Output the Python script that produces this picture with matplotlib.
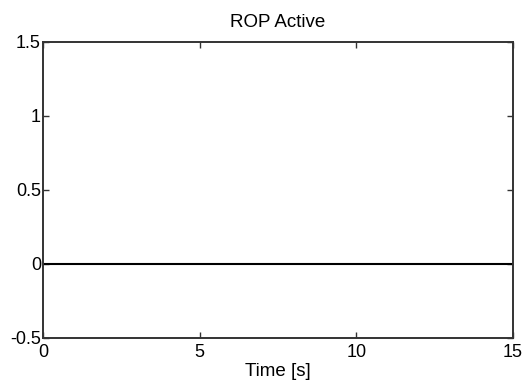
import matplotlib
matplotlib.use("Agg")
import matplotlib.pyplot as plt

# ROP activity flag over the run
time_s = [0, 15]
rop_active = [0, 0]

x_ticks = [0, 5, 10, 15]
y_ticks = [-0.5, 0, 0.5, 1, 1.5]
y_tick_labels = ["-0.5", "0", "0.5", "1", "1.5"]

plt.rcParams["font.family"] = ["Liberation Sans", "DejaVu Sans"]

fig = plt.figure(figsize=(5.24, 3.81), dpi=100)
ax = fig.add_axes([0.082, 0.113, 0.897, 0.777])

ax.plot(time_s, rop_active, color="black", linewidth=1.5)

ax.set_xlim(0, 15)
ax.set_ylim(-0.5, 1.5)
ax.set_xticks(x_ticks)
ax.set_yticks(y_ticks)
ax.set_yticklabels(y_tick_labels)

ax.tick_params(direction="in", length=4, width=1.0, color="#333333",
               labelsize=13, top=True, right=True)
ax.tick_params(axis="x", pad=4)
ax.tick_params(axis="y", pad=1.5)
for spine in ax.spines.values():
    spine.set_linewidth(1.4)
    spine.set_color("#333333")

ax.set_title("ROP Active", fontsize=13.5, pad=11)
ax.set_xlabel("Time [s]", fontsize=13.5, labelpad=2)

fig.savefig("out.png", dpi=100)
